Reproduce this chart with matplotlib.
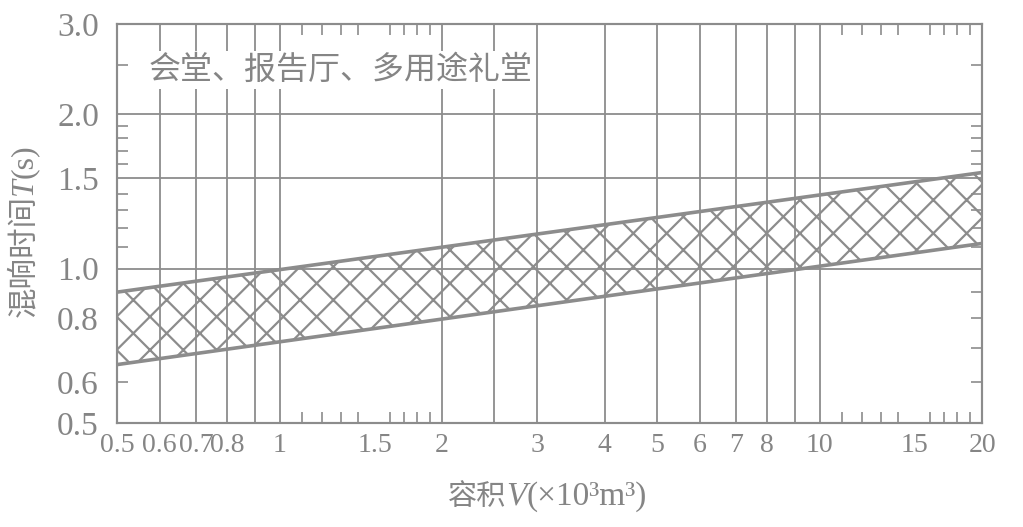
import numpy as np
import matplotlib.pyplot as plt
from matplotlib.ticker import NullFormatter

# colours / fonts
grey = "#8c8c8c"
txt_grey = "#858585"
cjk = ["Noto Sans CJK SC", "DejaVu Sans"]
serif = ["Liberation Serif", "DejaVu Serif"]

plt.rcParams["hatch.linewidth"] = 1.6
plt.rcParams["hatch.color"] = grey

# band of recommended reverberation time (straight on log-log paper)
volume = [0.5, 20]
t_upper = [0.9, 1.54]
t_lower = [0.65, 1.12]

# axis set-up
x_ticks = [0.5, 0.6, 0.7, 0.8, 1, 1.5, 2, 3, 4, 5, 6, 7, 8, 10, 15, 20]
x_tick_text = ["0.5", "0.6", "0.7", "0.8", "1", "1.5", "2", "3", "4", "5",
               "6", "7", "8", "10", "15", "20"]
x_grid = [0.6, 0.7, 0.8, 0.9, 1, 2, 2.5, 3, 4, 5, 6, 7, 8, 9, 10]
x_minor = [1.1, 1.2, 1.3, 1.4, 1.5, 1.6, 1.7, 1.8, 1.9,
           11, 12, 13, 14, 15, 16, 17, 18, 19]

y_ticks = [0.5, 0.6, 0.8, 1.0, 1.5, 2.0, 3.0]
y_tick_text = ["0.5", "0.6", "0.8", "1.0", "1.5", "2.0", "3.0"]
y_grid = [1.0, 1.5, 2.0]
y_minor_left = [0.6, 1.1, 1.2, 1.3, 1.4, 1.6, 1.7, 1.8, 1.9, 2.5]
y_minor_right = [0.6, 0.7, 0.8, 0.9, 1.1, 1.2, 1.3, 1.4, 1.6, 1.7, 1.8, 1.9, 2.5]

title = "会堂、报告厅、多用途礼堂"

fig = plt.figure(figsize=(10.23, 5.27), dpi=100)
ax = fig.add_axes([0.1144, 0.1973, 0.8456, 0.7571])
ax.set_xscale("log")
ax.set_yscale("log")
ax.set_xlim(0.5, 20)
ax.set_ylim(0.5, 3.0)

# grid
for xv in x_grid:
    ax.axvline(xv, color=grey, lw=1.3, zorder=1)
for yv in y_grid:
    ax.axhline(yv, color=grey, lw=1.3, zorder=1)

# hatched band
ax.fill_between(volume, t_lower, t_upper, facecolor="none", edgecolor=grey,
                hatch="x", lw=0, zorder=2)
ax.plot(volume, t_upper, color=grey, lw=2.6, zorder=3)
ax.plot(volume, t_lower, color=grey, lw=2.6, zorder=3)

# ticks
ax.set_xticks(x_ticks, x_tick_text)
ax.set_xticks(x_minor, minor=True)
ax.xaxis.set_minor_formatter(NullFormatter())
ax.tick_params(axis="x", which="major", length=0, pad=7, labelsize=20,
               labelcolor=txt_grey)
ax.tick_params(axis="x", which="minor", direction="in", length=8, width=1.2,
               color=grey, top=True, bottom=True)

ax.yaxis.remove_overlapping_locs = False
ax.set_yticks(y_ticks, y_tick_text)
ax.set_yticks(y_minor_left, minor=True)
ax.yaxis.set_minor_formatter(NullFormatter())
ax.tick_params(axis="y", which="major", length=0, pad=13, labelsize=24,
               labelcolor=txt_grey)
ax.tick_params(axis="y", which="minor", direction="in", length=8, width=1.2,
               color=grey)
for lab in ax.get_xticklabels() + ax.get_yticklabels():
    lab.set_family(serif)

ax2 = ax.twinx()
ax2.set_yscale("log")
ax2.set_ylim(0.5, 3.0)
ax2.set_yticks([])
ax2.set_yticks(y_minor_right, minor=True)
ax2.yaxis.set_minor_formatter(NullFormatter())
ax2.tick_params(axis="y", which="minor", direction="in", length=8, width=1.2,
                color=grey)

for a in (ax, ax2):
    for s in a.spines.values():
        s.set_color(grey)
        s.set_linewidth(1.5)

# title inside the plot
ax.text(0.036, 0.885, title, transform=ax.transAxes, family=cjk, fontsize=23,
        color=txt_grey, ha="left", va="center", zorder=4,
        bbox=dict(facecolor="white", edgecolor="none", pad=2))

# x label: 容积V(×10³m³)
t1 = ax.text(0.45, -0.205, "容积", transform=ax.transAxes, family=cjk,
             fontsize=21, color=txt_grey, ha="right", va="baseline")
t2 = ax.annotate("V", xy=(1, -0.205), xycoords=(t1, "axes fraction"),
                 family=serif, style="italic", fontsize=24, color=txt_grey,
                 ha="left", va="baseline", annotation_clip=False)
ax.annotate("(×10³m³)", xy=(1, -0.205), xycoords=(t2, "axes fraction"),
            family=serif, fontsize=24, color=txt_grey, ha="left",
            va="baseline", annotation_clip=False)

# y label: 混响时间T(s)
y1 = ax.text(-0.098, 0.265, "混响时间", transform=ax.transAxes, family=cjk,
             fontsize=22, color=txt_grey, rotation=90, rotation_mode="anchor",
             ha="left", va="baseline")
y2 = ax.annotate("T", xy=(-0.098, 1), xycoords=("axes fraction", y1),
                 family=serif, style="italic", fontsize=23, color=txt_grey,
                 rotation=90, rotation_mode="anchor", ha="left",
                 va="baseline", annotation_clip=False)
ax.annotate("(s)", xy=(-0.098, 1), xycoords=("axes fraction", y2),
            family=serif, fontsize=23, color=txt_grey, rotation=90,
            rotation_mode="anchor", ha="left", va="baseline",
            annotation_clip=False)

fig.savefig("out.png", dpi=100)
